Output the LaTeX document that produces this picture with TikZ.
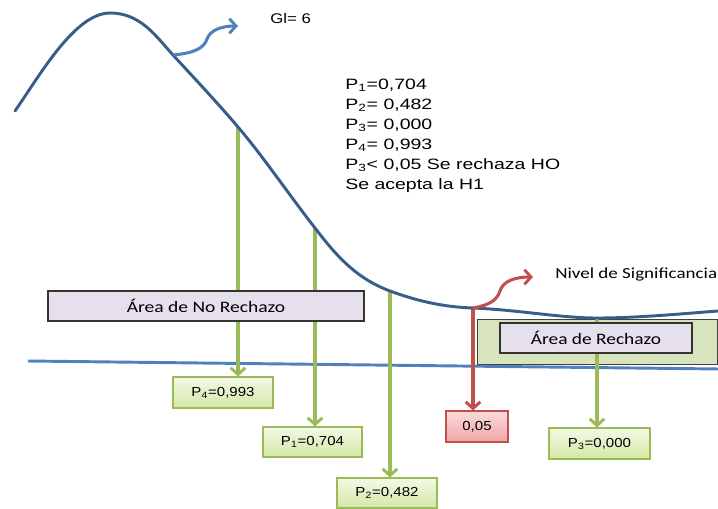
\documentclass[tikz,border=0pt]{standalone}
\usepackage{fontspec}
\usepackage{graphicx}
\setmainfont{Liberation Sans}
\newfontfamily\calib{Carlito}
\usetikzlibrary{arrows.meta,shadows}
\definecolor{curveblue}{HTML}{385D8A}
\definecolor{lineblue}{HTML}{4F81BD}
\definecolor{ggreen}{HTML}{9BBB59}
\definecolor{rred}{HTML}{C0504D}
\definecolor{lav}{HTML}{E5E0EC}
\definecolor{areagreen}{HTML}{D7E4BD}
\definecolor{gtop}{HTML}{F3F9E6}
\definecolor{gbot}{HTML}{D2E8A4}
\definecolor{rtop}{HTML}{FBDCDB}
\definecolor{rbot}{HTML}{F0A5A3}
\newcommand\hst[2][1.2]{\scalebox{#1}[1]{#2}}
\tikzset{
  chev/.style={-{Straight Barb[length=5pt,width=11pt,line width=2.2pt]}},
  garrow/.style={draw=ggreen, line width=2.3pt, chev},
  rarrow/.style={draw=rred, line width=2.3pt, chev},
  valbox/.style={draw=ggreen, line width=0.8pt, top color=gtop, bottom color=gbot,
    inner sep=0pt, font=\fontsize{9.8pt}{11pt}\selectfont,
    drop shadow={shadow xshift=0.8pt, shadow yshift=-0.8pt, opacity=0.25}},
  redbox/.style={draw=rred, line width=0.8pt, top color=rtop, bottom color=rbot,
    inner sep=0pt, font=\fontsize{9.8pt}{11pt}\selectfont,
    drop shadow={shadow xshift=0.8pt, shadow yshift=-0.8pt, opacity=0.25}},
  areabox/.style={draw=black!80, line width=0.9pt, fill=lav, inner sep=0pt,
    font=\calib\fontsize{12pt}{14pt}\selectfont}
}
\begin{document}
\begin{tikzpicture}[x=0.75pt,y=-0.75pt]
\useasboundingbox (0,0) rectangle (718,508);
% rejection area
\draw[fill=areagreen, draw=black!75, line width=0.6pt] (477,319) rectangle (717,364);
% baseline
\coordinate (bl) at (28,361);
\coordinate (br) at (720,369);
\draw[lineblue, line width=2.2pt] (bl) -- (br);
% curve points
\coordinate (c4) at (238,127);
\coordinate (c1) at (315,228);
\coordinate (c2) at (390,291);
\coordinate (cr) at (473,308);
\coordinate (c3) at (597,318);
\coordinate (cg) at (173,55);
\coordinate (gt) at (238,26);
\coordinate (rt) at (533,277);
% value boxes
\node[valbox, minimum width=0.75*100pt, minimum height=0.75*31pt] (p4) at (223,392.5) {\hst[1.15]{P\textsubscript{4}=0,993}};
\node[valbox, minimum width=0.75*99pt, minimum height=0.75*30pt] (p1) at (312.5,442) {\hst[1.15]{P\textsubscript{1}=0,704}};
\node[valbox, minimum width=0.75*100pt, minimum height=0.75*30pt] (p2) at (387,493) {\hst[1.15]{P\textsubscript{2}=0,482}};
\node[redbox, minimum width=0.75*62pt, minimum height=0.75*31pt] (p05) at (477,426.5) {\hst[1.15]{0,05}};
\node[valbox, minimum width=0.75*101pt, minimum height=0.75*31pt] (p3) at (599.5,443.5) {\hst[1.15]{P\textsubscript{3}=0,000}};
% connectors
\draw[garrow] (c4) -- (c4 |- p4.north);
\draw[garrow] (c1) -- (c1 |- p1.north);
\draw[garrow] (c2) -- (c2 |- p2.north);
\draw[garrow] (c3) -- (c3 |- p3.north);
\draw[rarrow] (cr) -- (cr |- p05.north);
% area boxes on top of lines
\node[areabox, minimum width=0.75*316pt, minimum height=0.75*30pt] (nr) at (206,306) {\hst[1.22]{Área de No Rechazo}};
\node[areabox, minimum width=0.75*192pt, minimum height=0.75*30pt] (ar) at (596,338) {\hst[1.21]{Área de Rechazo}};
% curve
\draw[curveblue, line width=2.2pt, line cap=round]
 (15,111) .. controls (40,75) and (75,13) .. (110,13)
 .. controls (140,13) and (155,35) .. (cg)
 .. controls (195,79) and (215,100) .. (c4)
 .. controls (262,155) and (290,196) .. (c1)
 .. controls (335,254) and (355,278) .. (c2)
 .. controls (420,302) and (445,307) .. (cr)
 .. controls (520,310) and (560,318) .. (c3)
 .. controls (640,318) and (690,313) .. (718,311);
% text labels
\node[anchor=base west, inner sep=0pt, font=\fontsize{10.5pt}{12pt}\selectfont] (gl) at (270,23) {\hst{Gl= 6}};
\node[anchor=base west, inner sep=0pt, font=\calib\fontsize{11.5pt}{13pt}\selectfont] (ns) at (555,278) {\hst[1.24]{Nivel de Significancia}};
\node[anchor=north west, inner sep=0pt, font=\fontsize{11.25pt}{15pt}\selectfont] (txt) at (345,75)
 {\hst[1.3]{\begin{tabular}{@{}l@{}}P\textsubscript{1}=0,704\\ P\textsubscript{2}= 0,482\\ P\textsubscript{3}= 0,000\\ P\textsubscript{4}= 0,993\\ P\textsubscript{3}< 0,05 Se rechaza HO\\ Se acepta la H1\end{tabular}}};
% callout arrows
\draw[lineblue, line width=2.3pt, chev] (cg) .. controls (195,53) and (204,48) .. (207,39) .. controls (210,30) and (222,26) .. (gt);
\draw[rred, line width=2.3pt, chev] (cr) .. controls (490,305) and (497,300) .. (500,291) .. controls (503,281) and (515,277) .. (rt);
\end{tikzpicture}
\end{document}
